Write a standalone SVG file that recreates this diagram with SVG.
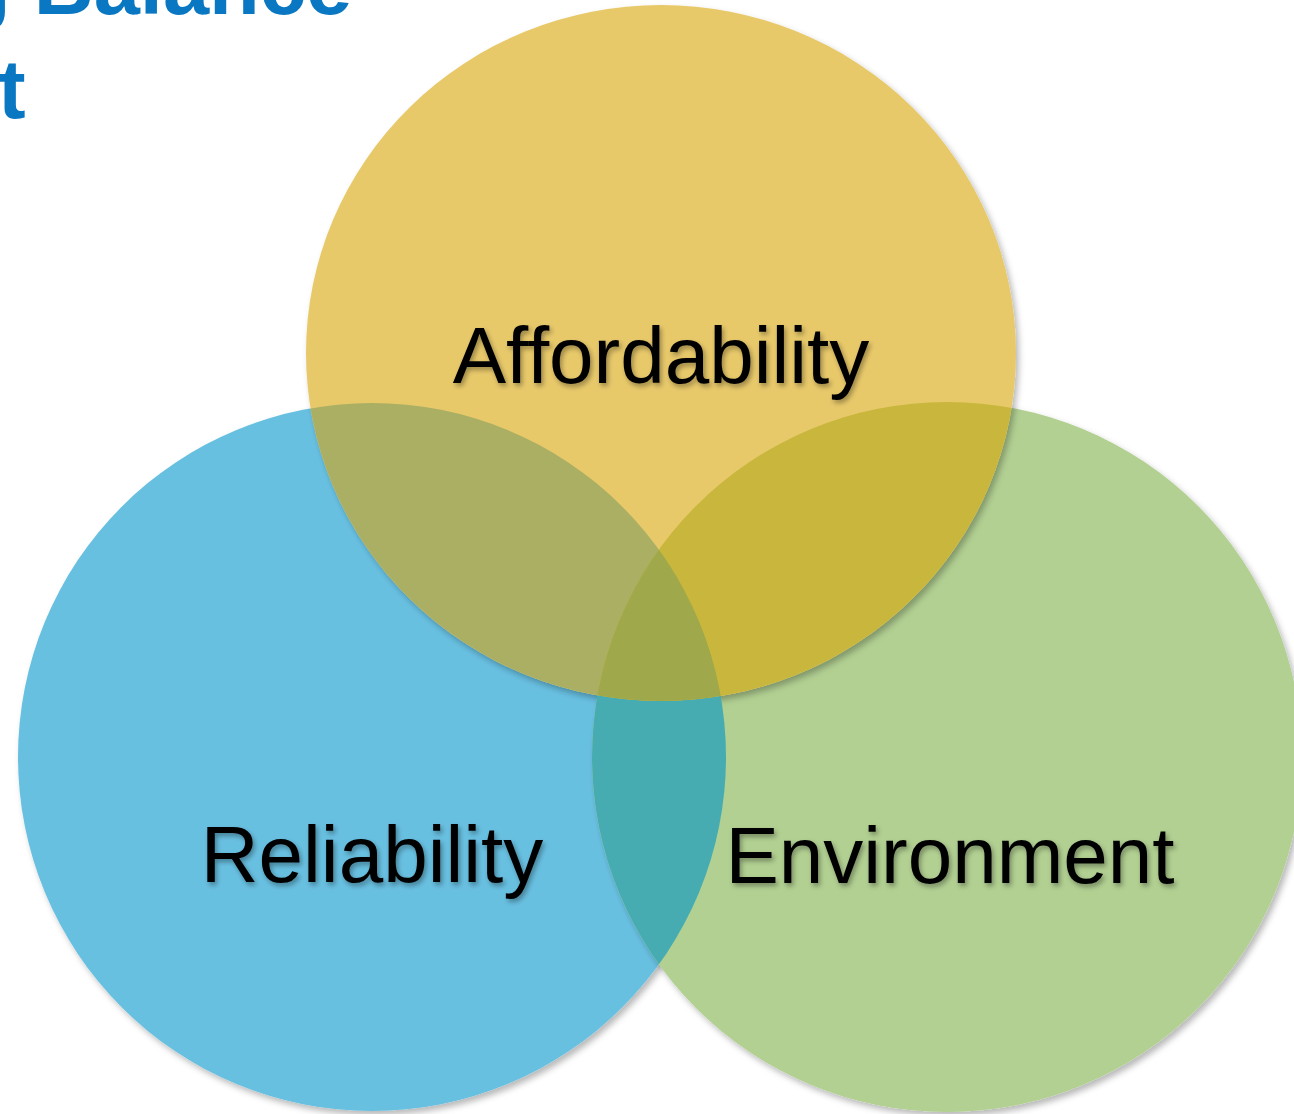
<svg xmlns="http://www.w3.org/2000/svg" width="1294" height="1114" viewBox="0 0 1294 1114">
  <style>
    .lbl { font-family: "Liberation Sans", Arial, sans-serif; font-size: 80px; fill: #000; text-anchor: middle; }
    .title { font-family: "Liberation Sans", Arial, sans-serif; font-size: 83px; font-weight: bold; fill: #0A77C2; }
  </style>
  <defs>
    <filter id="shadow" x="-10%" y="-10%" width="120%" height="120%">
      <feDropShadow dx="3" dy="4" stdDeviation="3" flood-color="#000" flood-opacity="0.28"/>
    </filter>
    <filter id="tshadow" x="-5%" y="-20%" width="110%" height="140%">
      <feDropShadow dx="2" dy="3" stdDeviation="2.5" flood-color="#000" flood-opacity="0.35"/>
    </filter>
    <clipPath id="clipY"><ellipse cx="661" cy="353" rx="355" ry="348"/></clipPath>
    <clipPath id="clipB"><circle cx="372" cy="757" r="354"/></clipPath>
    <clipPath id="clipG"><circle cx="947" cy="757" r="355"/></clipPath>
  </defs>
  <rect width="1294" height="1114" fill="#ffffff"/>
  <g id="title">
    <text class="title" x="-40" y="14">g Balance</text>
    <text class="title" x="-2" y="118">t</text>
  </g>
  <g id="reliability">
    <circle cx="372" cy="757" r="354" fill="#67C0E1" filter="url(#shadow)"/>
  </g>
  <g id="environment">
    <circle cx="947" cy="757" r="355" fill="#B2D092" filter="url(#shadow)"/>
  </g>
  <g id="affordability">
    <ellipse cx="661" cy="353" rx="355" ry="348" fill="#E8C96A" filter="url(#shadow)"/>
  </g>
  <g id="overlaps">
    <g clip-path="url(#clipB)"><circle cx="947" cy="757" r="355" fill="#47ACB2"/></g>
    <g clip-path="url(#clipY)"><circle cx="372" cy="757" r="354" fill="#ABAF63"/></g>
    <g clip-path="url(#clipY)"><circle cx="947" cy="757" r="355" fill="#C9B63C"/></g>
    <g clip-path="url(#clipY)"><g clip-path="url(#clipB)"><circle cx="947" cy="757" r="355" fill="#9FA84A"/></g></g>
  </g>
  <g id="labels" filter="url(#tshadow)">
    <text class="lbl" x="661" y="383">Affordability</text>
    <text class="lbl" x="372" y="882">Reliability</text>
    <text class="lbl" x="950" y="883">Environment</text>
  </g>
</svg>
